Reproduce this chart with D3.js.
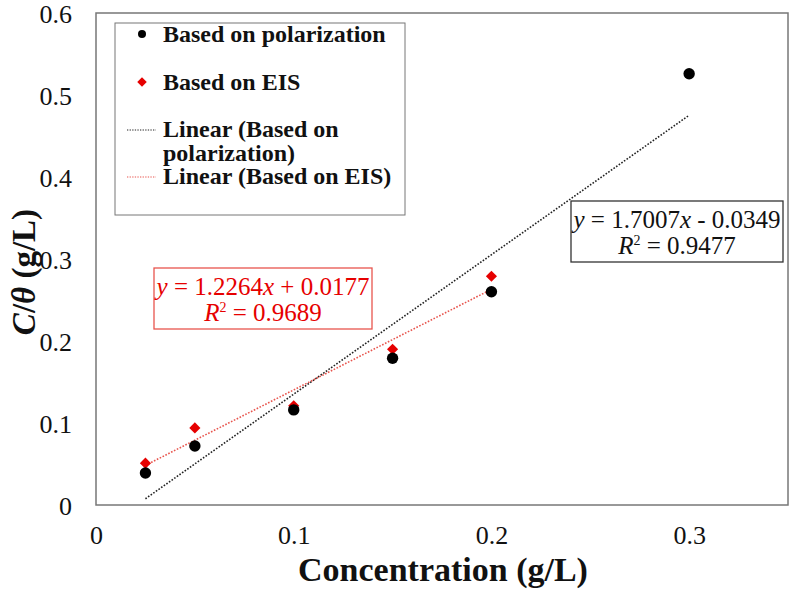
<!DOCTYPE html>
<html>
<head>
<meta charset="utf-8">
<script src="https://cdn.jsdelivr.net/npm/d3@7"></script>
<style>
  body { margin: 0; background: #fff; }
  text { font-family: "Liberation Serif", "Times New Roman", serif; }
</style>
</head>
<body>
<svg id="chart" width="792" height="589"></svg>
<script>
// concentrations (g/L)
const concPol = [0.025, 0.05, 0.1, 0.15, 0.2, 0.3];
const concEis = [0.025, 0.05, 0.1, 0.15, 0.2];
// C/theta values
const valuesPol = [0.039, 0.072, 0.116, 0.179, 0.26, 0.526];
const valuesEis = [0.051, 0.094, 0.121, 0.19, 0.279];
// fitted trendlines
const fitPol = { slope: 1.7007, intercept: -0.0349, r2: 0.9477 };
const fitEis = { slope: 1.2264, intercept: 0.0177, r2: 0.9689 };
const xTicks = [0, 0.1, 0.2, 0.3];
const yTicks = [0, 0.1, 0.2, 0.3, 0.4, 0.5, 0.6];

const svg = d3.select("#chart");
const plotLeft = 96, plotRight = 788, plotTop = 13, plotBottom = 505;

const x = d3.scaleLinear().domain([0, 0.35]).range([plotLeft, plotRight]);
const y = d3.scaleLinear().domain([0, 0.6]).range([plotBottom, plotTop]);

// plot frame
svg.append("rect")
  .attr("x", plotLeft).attr("y", plotTop)
  .attr("width", plotRight - plotLeft).attr("height", plotBottom - plotTop)
  .attr("fill", "none").attr("stroke", "#777").attr("stroke-width", 1.5);

// axes (labels only)
const xAxis = svg.append("g")
  .attr("transform", `translate(0,${plotBottom})`)
  .call(d3.axisBottom(x).tickValues(xTicks).tickSize(0).tickPadding(21).tickFormat(d3.format("")));
const yAxis = svg.append("g")
  .attr("transform", `translate(${plotLeft},0)`)
  .call(d3.axisLeft(y).tickValues(yTicks).tickSize(0).tickPadding(24).tickFormat(d3.format("")));
[xAxis, yAxis].forEach(g => {
  g.select(".domain").remove();
  g.selectAll("text")
    .style("font-family", "'Liberation Serif', serif")
    .style("font-size", "26px")
    .attr("fill", "#111");
});
yAxis.selectAll("text").attr("dy", "0.38em");

// trendlines
function trend(xs, fit, color) {
  const ends = d3.extent(xs);
  svg.append("line")
    .attr("x1", x(ends[0])).attr("y1", y(fit.slope * ends[0] + fit.intercept))
    .attr("x2", x(ends[1])).attr("y2", y(fit.slope * ends[1] + fit.intercept))
    .attr("stroke", color).attr("stroke-width", 1.6)
    .attr("stroke-dasharray", "1.6,1.6");
}
trend(concPol, fitPol, "#222");
trend(concEis, fitEis, "#e8554e");

// markers
const diamond = d3.symbol().type(d3.symbolSquare).size(62);
svg.append("g").selectAll("path")
  .data(concEis)
  .join("path")
  .attr("d", diamond)
  .attr("transform", (d, i) => `translate(${x(d)},${y(valuesEis[i])}) rotate(45)`)
  .attr("fill", "#e60000");
svg.append("g").selectAll("circle")
  .data(concPol)
  .join("circle")
  .attr("cx", d => x(d))
  .attr("cy", (d, i) => y(valuesPol[i]))
  .attr("r", 5.7)
  .attr("fill", "#000");

// legend
const legend = svg.append("g");
legend.append("rect")
  .attr("x", 115).attr("y", 23).attr("width", 290).attr("height", 192)
  .attr("fill", "#fff").attr("stroke", "#777").attr("stroke-width", 1);
const legText = (t, ty) => legend.append("text")
  .attr("x", 163).attr("y", ty)
  .style("font-size", "24px").style("font-weight", "bold")
  .attr("fill", "#111").text(t);
legend.append("circle").attr("cx", 142).attr("cy", 34).attr("r", 4).attr("fill", "#000");
legText("Based on polarization", 42);
legend.append("path").attr("d", d3.symbol().type(d3.symbolSquare).size(45))
  .attr("transform", "translate(142,82) rotate(45)").attr("fill", "#e60000");
legText("Based on EIS", 90);
legend.append("line").attr("x1", 127).attr("x2", 156).attr("y1", 130).attr("y2", 130)
  .attr("stroke", "#222").attr("stroke-width", 1.2).attr("stroke-dasharray", "1.3,1.3");
legText("Linear (Based on", 137);
legText("polarization)", 161);
legend.append("line").attr("x1", 127).attr("x2", 156).attr("y1", 177).attr("y2", 177)
  .attr("stroke", "#e8554e").attr("stroke-width", 1.2).attr("stroke-dasharray", "1.3,1.3");
legText("Linear (Based on EIS)", 184);

// equation boxes
function eqBox(bx, by, bw, bh, fit, sign, color, border) {
  const g = svg.append("g");
  g.append("rect").attr("x", bx).attr("y", by).attr("width", bw).attr("height", bh)
    .attr("fill", "#fff").attr("stroke", border).attr("stroke-width", 1.3);
  const cx = bx + bw / 2;
  const t1 = g.append("text").attr("x", cx).attr("y", by + 27)
    .attr("text-anchor", "middle").style("font-size", "25px").attr("fill", color);
  t1.append("tspan").style("font-style", "italic").text("y");
  t1.append("tspan").text(" = " + fit.slope.toFixed(4));
  t1.append("tspan").style("font-style", "italic").text("x");
  t1.append("tspan").text(` ${sign} ${Math.abs(fit.intercept).toFixed(4)}`);
  const t2 = g.append("text").attr("x", cx).attr("y", by + 53)
    .attr("text-anchor", "middle").style("font-size", "25px").attr("fill", color);
  t2.append("tspan").style("font-style", "italic").text("R");
  t2.append("tspan").attr("dy", -9).style("font-size", "14px").text("2");
  t2.append("tspan").attr("dy", 9).text(" = " + fit.r2.toFixed(4));
}
eqBox(571, 201, 212, 61, fitPol, "-", "#111", "#333");
eqBox(154, 268, 218, 61, fitEis, "+", "#e60000", "#e8554e");

// axis titles
svg.append("text")
  .attr("x", 443).attr("y", 581)
  .attr("text-anchor", "middle")
  .style("font-size", "34px").style("font-weight", "bold")
  .attr("fill", "#111")
  .text("Concentration (g/L)");

const yTitle = svg.append("text")
  .attr("transform", "translate(35,272) rotate(-90)")
  .attr("text-anchor", "middle")
  .style("font-size", "33px").style("font-weight", "bold")
  .attr("fill", "#111");
yTitle.append("tspan").style("font-style", "italic").text("C");
yTitle.append("tspan").text("/");
yTitle.append("tspan").style("font-style", "italic").text("θ");
yTitle.append("tspan").text(" (g/L)");
</script>
</body>
</html>
